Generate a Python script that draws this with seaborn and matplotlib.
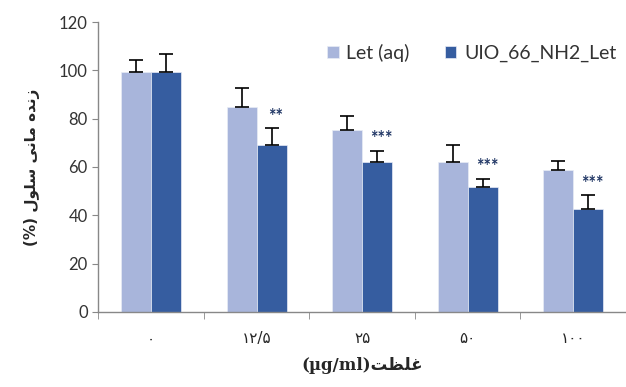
import matplotlib
matplotlib.use("Agg")
import matplotlib.pyplot as plt
import seaborn as sns
import pandas as pd
import numpy as np

# data
concentrations = ["\u06f0", "\u06f1\u06f2/\u06f5", "\u06f2\u06f5", "\u06f5\u06f0", "\u06f1\u06f0\u06f0"]
series_names = ["Let (aq)", "UIO_66_NH2_Let"]
let_aq = [99.5, 85.0, 75.4, 62.2, 58.6]
let_aq_err = [4.8, 7.6, 5.9, 6.7, 3.9]
uio_let = [99.5, 69.1, 62.2, 51.6, 42.5]
uio_let_err = [7.2, 6.9, 4.6, 3.4, 5.7]
stars = ["", "**", "***", "***", "***"]

colors = {"Let (aq)": "#A8B5DB", "UIO_66_NH2_Let": "#365DA0"}

# Persian labels written in visual order with presentation forms
y_label = "(%) \ufedd\ufeee\ufee0\ufeb3 \ufef0\ufee7\ufe8e\ufee3 \ufee9\ufeaa\ufee7\ufeaf"
x_label = "(\u00b5g/ml)\ufe96\ufec8\ufee0\ufecf"

df = pd.DataFrame({
    "conc": concentrations * 2,
    "value": let_aq + uio_let,
    "series": [series_names[0]] * 5 + [series_names[1]] * 5,
})
errs = [let_aq_err, uio_let_err]

sns.set_style("white")
plt.rcParams["font.family"] = ["Lato", "DejaVu Sans"]

fig = plt.figure(figsize=(6.26, 3.87), dpi=100)
ax = fig.add_axes([0.157, 0.194, 0.843, 0.749])

sns.barplot(data=df, x="conc", y="value", hue="series", palette=colors,
            width=0.57, errorbar=None, saturation=1, ax=ax, order=concentrations,
            edgecolor="#E8ECF6", linewidth=0.5)

# one-sided error bars, Excel style
for cont, err in zip(ax.containers, errs):
    xs = [p.get_x() + p.get_width() / 2 for p in cont.patches]
    hs = [p.get_height() for p in cont.patches]
    ax.errorbar(xs, hs, yerr=[np.zeros(len(err)), err], fmt="none",
                ecolor="black", elinewidth=1.2, capsize=5, capthick=1.2)

# significance stars over the second series
dark = ax.containers[1]
for p, e, s in zip(dark.patches, uio_let_err, stars):
    if s:
        ax.text(p.get_x() + p.get_width() / 2 + 0.04, p.get_height() + e + 1.5, s,
                ha="center", va="bottom", fontsize=13, color="#1F3564",
                fontweight="bold")

ax.set_ylim(0, 120)
ax.set_yticks(range(0, 121, 20))
ax.set_xlim(-0.5, 4.5)
ax.set_xticks(range(5))
ax.set_xticklabels(concentrations, family=["DejaVu Sans"], fontsize=11)
ax.set_xticks(np.arange(-0.5, 5.0, 1.0), minor=True)
ax.tick_params(axis="x", which="major", length=0, pad=14)
ax.tick_params(axis="x", which="minor", length=5, color="#888888", direction="out", bottom=True)
ax.tick_params(axis="y", length=4, color="#888888", direction="out", left=True, labelsize=12, labelcolor="#333333")

for side in ["top", "right"]:
    ax.spines[side].set_visible(False)
for side in ["left", "bottom"]:
    ax.spines[side].set_color("#888888")
    ax.spines[side].set_linewidth(1)

ax.set_ylabel(y_label, family=["DejaVu Sans"], fontsize=11, fontweight="bold", labelpad=14)
ax.set_xlabel(x_label, family=["DejaVu Serif", "DejaVu Sans"], fontsize=12, fontweight="bold", labelpad=8)

leg = ax.legend(loc="center left", bbox_to_anchor=(0.4, 0.893), ncol=2, frameon=False,
                fontsize=14, handlelength=0.6, handleheight=0.6, handletextpad=0.4,
                columnspacing=1.8)
for t in leg.get_texts():
    t.set_color("#333333")

fig.savefig("out.png", dpi=100)
